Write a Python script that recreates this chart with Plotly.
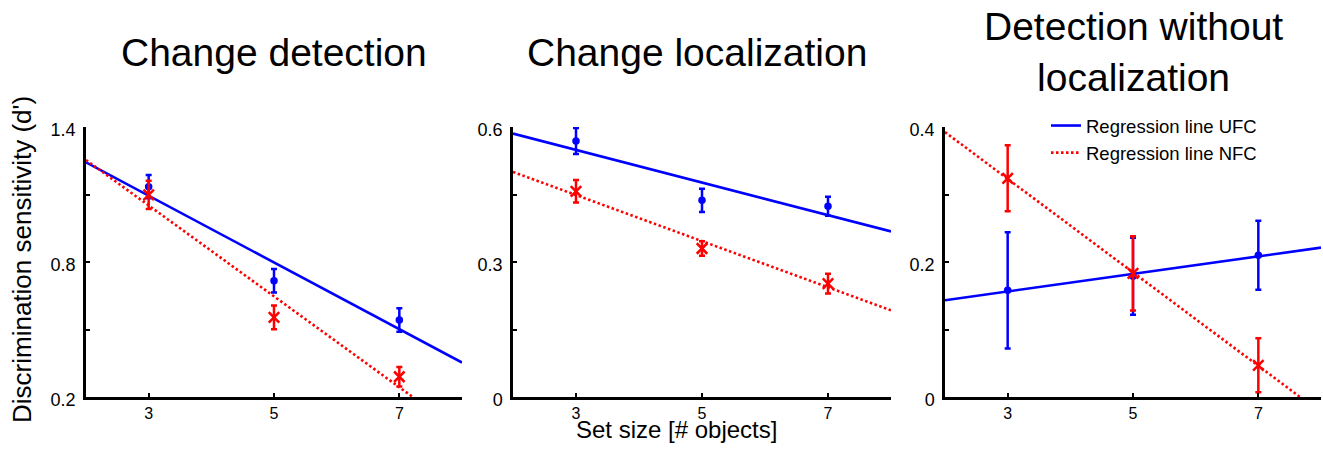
import numpy as np
import plotly.graph_objects as go

# figure size that the viewer shows 1:1 (taller pages get rescaled)
W, H = 1323, 445


def px(X):
    return X / W


def py(Y):
    return (H - Y) / H


FONT = "Liberation Sans, Arial, sans-serif"
BLUE = "#0000FF"
RED = "#FF0000"

set_sizes = [3, 5, 7]
line_x = [2, 8]

titles = ["Change detection", "Change localization", "Detection without<br>localization"]

# Change detection
cd_ufc = [1.135, 0.717, 0.542]
cd_ufc_err = [0.052, 0.052, 0.052]
cd_nfc = [1.098, 0.554, 0.290]
cd_nfc_err = [0.063, 0.053, 0.043]

# Change localization
cl_ufc = [0.569, 0.437, 0.424]
cl_ufc_err = [0.029, 0.026, 0.021]
cl_nfc = [0.457, 0.330, 0.252]
cl_nfc_err = [0.025, 0.016, 0.022]

# Detection without localization
dwl_ufc = [0.158, 0.179, 0.210]
dwl_ufc_err = [0.086, 0.057, 0.051]
dwl_nfc = [0.324, 0.183, 0.047]
dwl_nfc_err = [0.049, 0.055, 0.040]

y_ranges = [[0.2, 1.4], [0.0, 0.6], [0.0, 0.4]]
y_tickvals = [[0.2, 0.5, 0.8, 1.1, 1.4], [0, 0.15, 0.3, 0.45, 0.6], [0, 0.1, 0.2, 0.3, 0.4]]
y_ticktext = [["0.2", "", "0.8", "", "1.4"], ["0", "", "0.3", "", "0.6"], ["0", "", "0.2", "", "0.4"]]

panels = [
    (cd_ufc, cd_ufc_err, cd_nfc, cd_nfc_err),
    (cl_ufc, cl_ufc_err, cl_nfc, cl_nfc_err),
    (dwl_ufc, dwl_ufc_err, dwl_nfc, dwl_nfc_err),
]

# target pixel geometry of the panels
px_x = [(86, 462), (513, 891), (945, 1321)]
px_y = (127, 397)

fig = go.Figure()

for i, (ufc, ufc_e, nfc, nfc_e) in enumerate(panels):
    xa = "x" if i == 0 else f"x{i+1}"
    ya = "y" if i == 0 else f"y{i+1}"
    show = i == 2
    # regression lines (least squares on the means)
    b_u = np.polyfit(set_sizes, ufc, 1)
    b_n = np.polyfit(set_sizes, nfc, 1)
    lx = np.array(line_x, dtype=float)
    fig.add_trace(go.Scatter(x=lx, y=np.polyval(b_u, lx), mode="lines",
                             line=dict(color=BLUE, width=2.6),
                             name="Regression line UFC", showlegend=show,
                             xaxis=xa, yaxis=ya))
    fig.add_trace(go.Scatter(x=lx, y=np.polyval(b_n, lx), mode="lines",
                             line=dict(color=RED, width=2.6, dash="2.5px,2.5px"),
                             name="Regression line NFC", showlegend=show,
                             xaxis=xa, yaxis=ya))
    fig.add_trace(go.Scatter(x=set_sizes, y=ufc, mode="markers",
                             marker=dict(color=BLUE, size=7.5, symbol="circle"),
                             error_y=dict(type="data", array=ufc_e, color=BLUE,
                                          thickness=2.5, width=3),
                             showlegend=False, xaxis=xa, yaxis=ya))
    fig.add_trace(go.Scatter(x=set_sizes, y=nfc, mode="markers",
                             marker=dict(color=RED, size=10.5, symbol="x-thin",
                                         line=dict(color=RED, width=2.5)),
                             error_y=dict(type="data", array=nfc_e, color=RED,
                                          thickness=2.5, width=3),
                             showlegend=False, xaxis=xa, yaxis=ya))

layout = dict(
    width=W, height=H,
    margin=dict(l=0, r=0, t=0, b=0, autoexpand=False),
    paper_bgcolor="white", plot_bgcolor="white",
    font=dict(family=FONT, color="black"),
    showlegend=True,
    legend=dict(x=px(1046), y=py(107), xanchor="left", yanchor="top",
                bgcolor="rgba(0,0,0,0)", font=dict(size=18.5, family=FONT),
                itemwidth=30, tracegroupgap=0),
)

for i in range(3):
    xk = "xaxis" if i == 0 else f"xaxis{i+1}"
    yk = "yaxis" if i == 0 else f"yaxis{i+1}"
    xa = "x" if i == 0 else f"x{i+1}"
    ya = "y" if i == 0 else f"y{i+1}"
    layout[xk] = dict(domain=[px(px_x[i][0]), px(px_x[i][1])], range=line_x,
                      anchor=ya, showgrid=False, zeroline=False,
                      showline=True, linecolor="black", linewidth=2.5,
                      ticks="inside", ticklen=4, tickwidth=2, tickcolor="black",
                      tickvals=set_sizes, ticktext=[str(s) for s in set_sizes],
                      tickfont=dict(size=16, family=FONT))
    layout[yk] = dict(domain=[py(px_y[1]), py(px_y[0])], range=y_ranges[i], anchor=xa,
                      showgrid=False, zeroline=False,
                      showline=True, linecolor="black", linewidth=2.5,
                      ticks="inside", ticklen=4, tickwidth=2, tickcolor="black",
                      tickvals=y_tickvals[i], ticktext=y_ticktext[i],
                      ticklabelstandoff=4, ticklabelshift=3,
                      tickfont=dict(size=18, family=FONT))

fig.update_layout(**layout)

title_cx = [274, 697, 1133]
for i, t in enumerate(titles):
    fig.add_annotation(text=t, x=px(title_cx[i]), y=py(52), xref="paper", yref="paper",
                       xanchor="center", yanchor="middle", showarrow=False,
                       font=dict(size=39, family=FONT, color="black"))

fig.add_annotation(text="Discrimination sensitivity (d')", x=px(22), y=py(260),
                   xref="paper", yref="paper", textangle=-90, showarrow=False,
                   xanchor="center", yanchor="middle",
                   font=dict(size=26, family=FONT, color="black"))
fig.add_annotation(text="Set size [# objects]", x=px(676), y=py(429),
                   xref="paper", yref="paper", showarrow=False,
                   xanchor="center", yanchor="middle", borderpad=0,
                   font=dict(size=24, family=FONT, color="black"))

fig.write_html("out.html")
